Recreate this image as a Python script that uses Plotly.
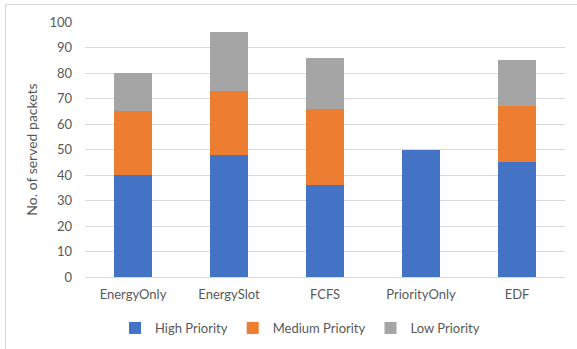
import plotly.graph_objects as go

categories = ["EnergyOnly", "EnergySlot", "FCFS", "PriorityOnly", "EDF"]
high_priority = [40, 48, 36, 50, 45]
medium_priority = [25, 25, 30, 0, 22]
low_priority = [15, 23, 20, 0, 18]

series = [
    ("High Priority", high_priority, "#4472C4"),
    ("Medium Priority", medium_priority, "#ED7D31"),
    ("Low Priority", low_priority, "#A5A5A5"),
]

font_family = "Lato, 'Open Sans', sans-serif"
text_color = "#595959"
grid_color = "#D9D9D9"

fig = go.Figure()
for name, values, color in series:
    fig.add_trace(go.Bar(
        x=categories,
        y=values,
        name=name,
        marker=dict(color=color, line=dict(width=0)),
        hoverinfo="x+y+name",
    ))

W, H = 577, 349
left, right, top, bottom = 85, 12, 22, 72
plot_w = W - left - right
plot_h = H - top - bottom

def px_x(x):
    return (x - left) / plot_w

def px_y(y):
    return (H - bottom - y) / plot_h

fig.update_layout(
    width=W,
    height=H,
    barmode="stack",
    bargap=0.6,
    margin=dict(l=left, r=right, t=top, b=bottom, pad=0, autoexpand=False),
    paper_bgcolor="white",
    plot_bgcolor="white",
    font=dict(family=font_family, size=13, color=text_color),
    xaxis=dict(
        showgrid=False,
        showline=True,
        linecolor=grid_color,
        linewidth=1,
        ticks="",
        tickfont=dict(size=13, color=text_color),
        ticklabelstandoff=5,
    ),
    yaxis=dict(
        range=[0, 100],
        dtick=10,
        showgrid=True,
        gridcolor=grid_color,
        gridwidth=1,
        zeroline=False,
        showline=False,
        ticks="",
        ticklabelstandoff=12,
        tickfont=dict(size=13, color=text_color),
        title=dict(text="No. of served packets", font=dict(size=14, color=text_color), standoff=8),
    ),
    legend=dict(
        orientation="h",
        xref="container",
        yref="container",
        x=300 / W,
        xanchor="center",
        y=1 - 328 / H,
        yanchor="middle",
        font=dict(size=13, color=text_color),
        itemwidth=30,
        traceorder="normal",
        bgcolor="rgba(0,0,0,0)",
    ),
    shapes=[
        dict(type="line", xref="paper", yref="paper",
             x0=px_x(5), x1=px_x(577), y0=px_y(4.5), y1=px_y(4.5),
             line=dict(color=grid_color, width=1)),
        dict(type="line", xref="paper", yref="paper",
             x0=px_x(5.5), x1=px_x(5.5), y0=px_y(4.5), y1=px_y(349),
             line=dict(color=grid_color, width=1)),
    ],
)

fig.write_html("out.html")
